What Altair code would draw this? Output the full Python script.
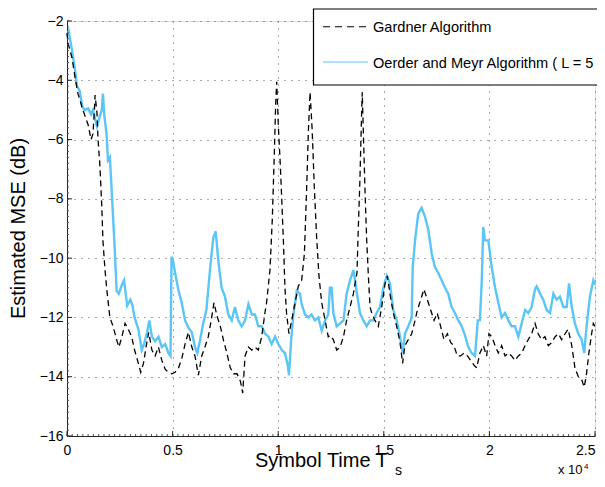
import altair as alt
import pandas as pd

# (symbol index, estimated MSE in dB)
GARDNER = [
    (0, -2.4), (50, -2.75), (240, -3.25), (380, -3.9), (520, -4.45), (710, -4.9),
    (850, -5.2), (1000, -5.5), (1140, -6.0), (1230, -5.8), (1300, -5.0), (1330, -4.5),
    (1420, -5.1), (1470, -6.0), (1560, -6.9), (1650, -8.3), (1700, -9.4), (1800, -10.4),
    (1890, -11.1), (2030, -12.0), (2180, -12.3), (2370, -12.8), (2460, -13.0), (2600, -12.65),
    (2750, -12.2), (2900, -12.4), (3060, -12.65), (3200, -13.1), (3380, -13.55), (3490, -13.85),
    (3620, -13.55), (3790, -12.8), (3870, -12.5), (4020, -13.1), (4170, -13.3), (4330, -13.0),
    (4490, -13.45), (4650, -13.75), (4800, -13.85), (4960, -13.9), (5120, -13.85), (5280, -13.7),
    (5430, -13.4), (5590, -12.9), (5750, -12.5), (5910, -13.0), (6060, -13.3), (6220, -13.95),
    (6380, -13.3), (6530, -13.0), (6690, -12.65), (6850, -12.0), (6960, -11.5), (7100, -11.95),
    (7260, -12.3), (7420, -12.8), (7570, -13.2), (7730, -13.7), (7890, -13.9), (8050, -13.9),
    (8210, -14.15), (8320, -14.55), (8430, -13.3), (8590, -13.0), (8750, -13.1), (8900, -13.0),
    (9060, -13.1), (9220, -12.65), (9380, -11.8), (9450, -11.5), (9610, -10.4), (9720, -8.7),
    (9815, -6.5), (9880, -4.8), (9930, -4.05), (10010, -5.6), (10090, -6.7), (10170, -8.05),
    (10240, -9.3), (10320, -11.0), (10400, -11.9), (10510, -12.55), (10640, -12.1), (10800, -11.5),
    (10950, -10.95), (11110, -10.75), (11240, -9.85), (11350, -7.6), (11430, -5.7), (11510, -4.4),
    (11610, -5.7), (11710, -7.6), (11820, -9.3), (11930, -10.6), (12060, -11.5), (12220, -12.1),
    (12370, -12.65), (12450, -12.6), (12610, -12.75), (12770, -13.1), (12930, -13.0), (13090, -12.65),
    (13240, -12.1), (13400, -11.65), (13560, -11.2), (13730, -10.5), (13790, -9.05), (13870, -7.35),
    (13950, -5.1), (13980, -4.4), (14030, -5.7), (14110, -7.7), (14190, -9.4), (14280, -10.75),
    (14350, -11.65), (14430, -11.85), (14580, -12.1), (14740, -12.3), (14900, -11.65), (15060, -10.85),
    (15170, -10.6), (15290, -11.2), (15450, -11.85), (15610, -12.3), (15770, -12.85), (15890, -13.55),
    (16000, -12.95), (16160, -12.75), (16320, -12.55), (16480, -12.1), (16590, -11.75), (16750, -11.4),
    (16900, -11.05), (17060, -11.4), (17220, -11.75), (17380, -12.1), (17530, -11.85), (17690, -12.3),
    (17850, -12.75), (18010, -12.55), (18170, -12.85), (18320, -12.95), (18480, -13.3), (18640, -13.3),
    (18800, -13.2), (18960, -13.3), (19160, -13.5), (19320, -13.65), (19400, -13.7), (19550, -13.2),
    (19710, -12.95), (19870, -13.3), (19980, -12.55), (20110, -12.65), (20270, -12.95), (20420, -13.2),
    (20580, -12.95), (20740, -13.3), (20900, -13.2), (21050, -13.3), (21210, -13.45), (21370, -13.3),
    (21530, -13.2), (21690, -12.95), (21840, -12.75), (22000, -12.55), (22160, -12.2), (22310, -12.55),
    (22470, -12.75), (22630, -12.65), (22790, -12.95), (22950, -12.85), (23110, -12.65), (23270, -12.55),
    (23420, -12.75), (23580, -12.55), (23730, -12.4), (23900, -12.95), (24050, -13.7), (24210, -14.0),
    (24370, -14.1), (24490, -14.35), (24600, -13.9), (24710, -13.2), (24840, -12.55), (24920, -12.2),
    (25000, -12.3),
]

OERDER = [
    (0, -2.5), (80, -2.35), (240, -3.0), (380, -3.65), (470, -4.2), (600, -4.35),
    (730, -4.9), (850, -5.0), (1000, -4.95), (1140, -5.15), (1230, -5.0), (1420, -5.55),
    (1560, -5.2), (1650, -5.0), (1700, -4.45), (1770, -5.2), (1870, -5.8), (1940, -6.7),
    (2030, -6.6), (2100, -7.5), (2180, -8.6), (2260, -9.7), (2350, -11.1), (2450, -11.2),
    (2600, -10.9), (2700, -10.75), (2850, -11.6), (3000, -11.4), (3100, -11.6), (3200, -12.0),
    (3380, -12.4), (3540, -13.1), (3650, -12.9), (3790, -12.5), (3900, -12.1), (4020, -12.65),
    (4170, -12.8), (4330, -12.65), (4490, -13.0), (4650, -12.9), (4800, -13.2), (4900, -13.3),
    (4950, -9.95), (5020, -10.1), (5120, -10.5), (5280, -11.1), (5430, -11.5), (5590, -12.1),
    (5750, -12.35), (5910, -12.5), (6060, -13.0), (6170, -13.2), (6290, -12.8), (6450, -12.2),
    (6600, -11.75), (6770, -10.4), (6930, -9.3), (7040, -9.1), (7160, -10.05), (7320, -11.0),
    (7480, -11.3), (7640, -11.9), (7800, -12.1), (7950, -11.65), (8110, -12.1), (8270, -12.3),
    (8430, -12.1), (8590, -11.55), (8750, -11.9), (8900, -11.9), (9060, -12.3), (9220, -12.3),
    (9380, -12.55), (9540, -12.65), (9690, -12.9), (9850, -12.65), (10010, -12.9), (10170, -13.1),
    (10320, -13.2), (10450, -13.6), (10510, -13.95), (10610, -12.8), (10720, -11.9), (10880, -11.1),
    (11030, -11.2), (11110, -11.55), (11270, -11.9), (11430, -12.0), (11580, -11.9), (11740, -12.1),
    (11900, -12.0), (12060, -12.45), (12220, -12.1), (12370, -11.9), (12450, -11.0), (12530, -11.0),
    (12610, -11.85), (12770, -12.3), (12930, -12.2), (13090, -12.1), (13240, -11.2), (13400, -10.75),
    (13560, -10.4), (13730, -11.2), (13870, -11.85), (14030, -12.1), (14190, -12.3), (14350, -12.1),
    (14500, -12.1), (14660, -11.85), (14820, -11.65), (14980, -11.0), (15140, -10.6), (15290, -10.85),
    (15450, -11.75), (15610, -12.1), (15770, -12.65), (15890, -13.2), (16000, -12.55), (16160, -12.3),
    (16320, -12.0), (16370, -10.3), (16480, -9.4), (16630, -8.5), (16790, -8.3), (16950, -8.6),
    (17110, -9.05), (17270, -9.85), (17420, -10.3), (17580, -10.5), (17740, -10.75), (17900, -11.0),
    (18050, -11.2), (18210, -11.65), (18370, -11.85), (18530, -12.1), (18690, -12.3), (18840, -12.6),
    (19000, -13.0), (19160, -13.2), (19320, -13.3), (19450, -12.1), (19550, -12.1), (19640, -10.75),
    (19710, -8.95), (19790, -9.4), (19950, -9.4), (20110, -10.3), (20270, -11.0), (20420, -11.5),
    (20580, -12.0), (20740, -11.85), (20900, -12.1), (21050, -12.3), (21210, -12.3), (21370, -12.65),
    (21530, -12.2), (21690, -11.75), (21840, -11.85), (22000, -11.65), (22160, -11.05), (22240, -10.95),
    (22400, -11.2), (22550, -11.4), (22710, -11.75), (22870, -11.85), (23030, -11.2), (23180, -11.4),
    (23340, -11.3), (23500, -11.65), (23660, -11.65), (23770, -10.85), (23900, -11.65), (24050, -12.2),
    (24210, -12.55), (24370, -12.75), (24490, -13.2), (24600, -12.3), (24760, -11.3), (24920, -10.75),
    (25000, -10.9),
]

X_TICKS = [0, 5000, 10000, 15000, 20000, 25000]
Y_TICKS = [-16, -14, -12, -10, -8, -6, -4, -2]
X_MINOR = list(range(0, 25001, 250))
Y_MINOR = [round(-16 + 0.2 * i, 1) for i in range(71)]

LEGEND_LABELS = ["Gardner Algorithm", "Oerder and Meyr Algorithm ( L = 5 )"]
X_TITLE = "Symbol Time T"
X_TITLE_SUB = "s"
Y_TITLE = "Estimated MSE (dB)"

FONT = "Liberation Sans"
BLUE = "#5BC6F5"

g = pd.DataFrame(GARDNER, columns=["t", "mse"])
o = pd.DataFrame(OERDER, columns=["t", "mse"])
dummy = pd.DataFrame({"a": [0]})

xs = alt.Scale(domain=[0, 25000], nice=False, zero=False)
ys = alt.Scale(domain=[-16, -2], nice=False, zero=False)

common_axis = dict(
    title=None, grid=True, gridDash=[1, 6], gridColor="#555", gridWidth=1,
    ticks=False, tickSize=0, domainColor="#262626", domainWidth=1,
    labelFont=FONT, labelFontSize=14, labelColor="black",
    labelFlush=False, labelOverlap=False,
)
x_axis = alt.Axis(
    values=X_TICKS, labelExpr="'' + datum.value / 10000", labelPadding=7,
    labelAlign={"condition": {"test": "datum.value == 25000", "value": "right"},
                "value": "center"},
    **common_axis)
y_axis = alt.Axis(values=Y_TICKS, labelPadding=4, **common_axis)

X = lambda: alt.X("t:Q", scale=xs, axis=x_axis)
Y = lambda: alt.Y("mse:Q", scale=ys, axis=y_axis)

blue_line = alt.Chart(o).mark_line(color=BLUE, strokeWidth=2.4).encode(x=X(), y=Y())
black_line = alt.Chart(g).mark_line(color="black", strokeWidth=1.3,
                                    strokeDash=[6, 4]).encode(x=X(), y=Y())

# inward major / minor ticks
y_major = alt.Chart(pd.DataFrame({"mse": Y_TICKS})).mark_rule(color="#262626").encode(
    y=Y(), x=alt.value(0), x2=alt.value(5))
x_major = alt.Chart(pd.DataFrame({"t": X_TICKS})).mark_rule(color="#262626").encode(
    x=X(), y=alt.value(415), y2=alt.value(410))
y_minor = alt.Chart(pd.DataFrame({"mse": Y_MINOR})).mark_rule(color="#555").encode(
    y=Y(), x=alt.value(0), x2=alt.value(2))
x_minor = alt.Chart(pd.DataFrame({"t": X_MINOR})).mark_rule(color="#555").encode(
    x=X(), y=alt.value(415), y2=alt.value(413))

# legend box
leg_box = alt.Chart(dummy).mark_rect(fill="white", stroke="black", strokeWidth=1.2).encode(
    x=alt.value(246.5), x2=alt.value(560), y=alt.value(-12), y2=alt.value(64))
leg_g = alt.Chart(dummy).mark_rule(color="black", strokeWidth=1.1, strokeDash=[7, 5]).encode(
    x=alt.value(256), x2=alt.value(301), y=alt.value(5.7))
leg_o = alt.Chart(dummy).mark_rule(color=BLUE, strokeWidth=1.2).encode(
    x=alt.value(256), x2=alt.value(301), y=alt.value(41))
leg_t1 = alt.Chart(dummy).mark_text(text=LEGEND_LABELS[0], font=FONT, fontSize=14.6,
                                    align="left", baseline="alphabetic", color="black").encode(
    x=alt.value(306), y=alt.value(10.7))
leg_t2 = alt.Chart(dummy).mark_text(text=LEGEND_LABELS[1], font=FONT, fontSize=14.6,
                                    align="left", baseline="alphabetic", color="black").encode(
    x=alt.value(306), y=alt.value(47.3))

# axis titles
y_title = alt.Chart(dummy).mark_text(text=Y_TITLE, font=FONT, fontSize=20, angle=270,
                                     align="center", baseline="alphabetic", color="black").encode(
    x=alt.value(-42), y=alt.value(207.5))
x_title = alt.Chart(dummy).mark_text(text=X_TITLE, font=FONT, fontSize=20,
                                     align="left", baseline="alphabetic", color="black").encode(
    x=alt.value(188), y=alt.value(445.5))
x_sub = alt.Chart(dummy).mark_text(text=X_TITLE_SUB, font=FONT, fontSize=14,
                                   align="left", baseline="alphabetic", color="black").encode(
    x=alt.value(328), y=alt.value(454))
exp_base = alt.Chart(dummy).mark_text(text="x 10", font=FONT, fontSize=13,
                                      align="left", baseline="alphabetic", color="black").encode(
    x=alt.value(491), y=alt.value(453))
exp_pow = alt.Chart(dummy).mark_text(text="4", font=FONT, fontSize=8,
                                     align="left", baseline="alphabetic", color="black").encode(
    x=alt.value(517), y=alt.value(448))

chart = alt.layer(
    blue_line, black_line, y_minor, x_minor, y_major, x_major,
    leg_box, leg_g, leg_o, leg_t1, leg_t2,
    y_title, x_title, x_sub, exp_base, exp_pow,
).properties(
    width=528, height=415,
    padding={"left": 59, "top": 13, "right": 2, "bottom": 43},
    autosize=alt.AutoSizeParams(type="none"),
).configure_view(stroke=None).configure(background="white")

chart.save("out.html", embed_options={"renderer": "svg", "actions": False})
